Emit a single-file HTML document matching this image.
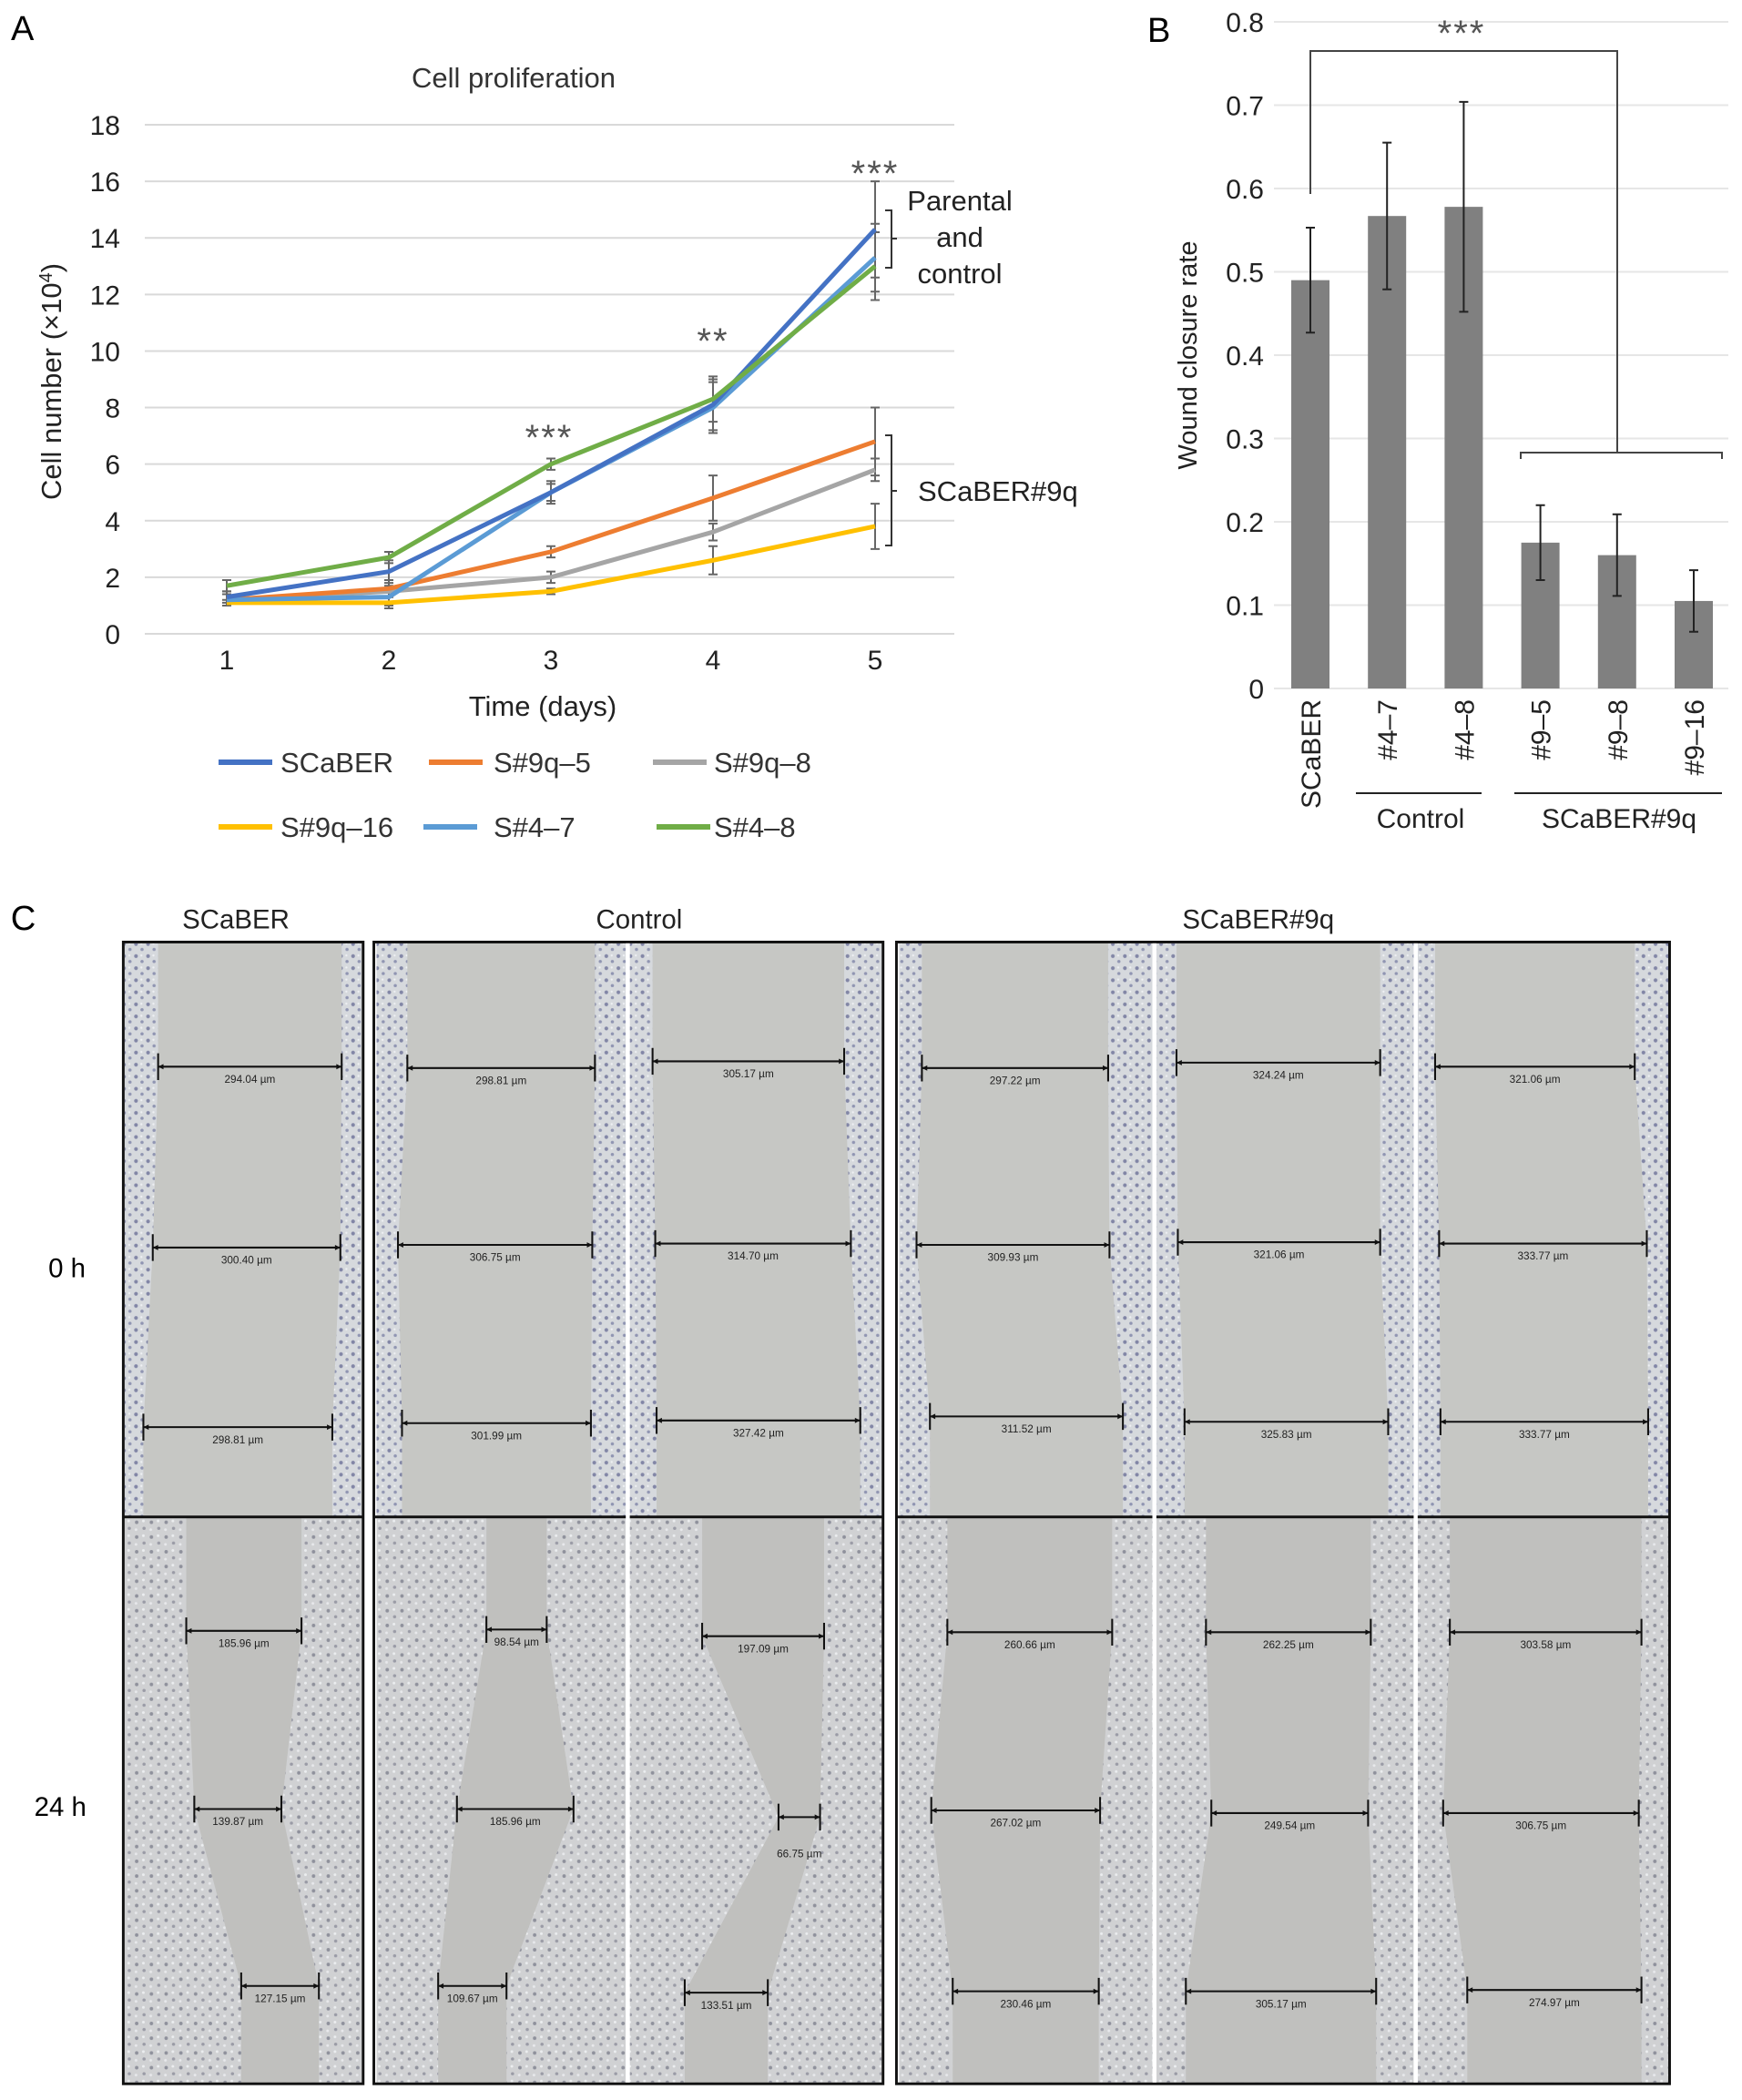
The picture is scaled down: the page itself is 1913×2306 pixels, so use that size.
<!DOCTYPE html>
<html><head><meta charset="utf-8"><style>
html,body{margin:0;padding:0;background:#fff;}
svg{display:block;font-family:"Liberation Sans",Arial,sans-serif;}
</style></head><body>
<svg id="fig" width="1913" height="2306" viewBox="0 0 1913 2306" xmlns="http://www.w3.org/2000/svg">
<defs>
<pattern id="cells" width="9" height="9" patternUnits="userSpaceOnUse">
<rect width="9" height="9" fill="#d6d9dd"/>
<circle cx="2.5" cy="2.5" r="1.4" fill="#8286a6"/>
<circle cx="7" cy="6.5" r="1.2" fill="#9095b2"/>
<circle cx="6.5" cy="2" r="0.8" fill="#eef0f3"/>
</pattern>
<pattern id="cells2" width="11" height="11" patternUnits="userSpaceOnUse">
<rect width="11" height="11" fill="#d0d1d3"/>
<circle cx="3" cy="3" r="1.3" fill="#8f919c"/>
<circle cx="8.5" cy="7.5" r="1.2" fill="#9a9ba6"/>
<circle cx="8" cy="2" r="1" fill="#eceef0"/>
<circle cx="2.5" cy="8.5" r="1" fill="#e8e9ec"/>
</pattern>
</defs>
<g id="panelA"></g>
<g id="panelB"></g>
<g id="panelC" transform="scale(1.4715)"></g>
</svg>
<script>
// ---------- Panel A data ----------
const days = [1, 2, 3, 4, 5];
const yTicksA = [0, 2, 4, 6, 8, 10, 12, 14, 16, 18];
const seriesNames = ["SCaBER", "S#9q\u20135", "S#9q\u20138", "S#9q\u201316", "S#4\u20137", "S#4\u20138"];
const seriesColors = ["#4472C4", "#ED7D31", "#A5A5A5", "#FFC000", "#5B9BD5", "#70AD47"];
const scaber = [1.3, 2.2, 5.0, 8.1, 14.3];
const s9q5 = [1.2, 1.6, 2.9, 4.8, 6.8];
const s9q8 = [1.2, 1.5, 2.0, 3.6, 5.8];
const s9q16 = [1.1, 1.1, 1.5, 2.6, 3.8];
const s47 = [1.2, 1.3, 5.0, 8.0, 13.3];
const s48 = [1.7, 2.7, 6.0, 8.3, 13.0];
const errScaber = [0.2, 0.4, 0.3, 0.9, 1.7];
const err9q5 = [0.2, 0.3, 0.2, 0.8, 1.2];
const err9q8 = [0.2, 0.2, 0.2, 0.3, 0.4];
const err9q16 = [0.1, 0.2, 0.1, 0.5, 0.8];
const err47 = [0.2, 0.3, 0.4, 0.9, 1.2];
const err48 = [0.2, 0.2, 0.2, 0.8, 1.2];
// ---------- Panel B data ----------
const barCats = ["SCaBER", "#4\u20137", "#4\u20138", "#9\u20135", "#9\u20138", "#9\u201316"];
const barVals = [0.49, 0.567, 0.578, 0.175, 0.16, 0.105];
const barErr = [0.063, 0.088, 0.126, 0.045, 0.049, 0.037];
const yTicksB = [0, 0.1, 0.2, 0.3, 0.4, 0.5, 0.6, 0.7, 0.8];

const NS = "http://www.w3.org/2000/svg";
function mk(parent, tag, attrs, text) {
  const e = document.createElementNS(NS, tag);
  for (const k in attrs) e.setAttribute(k, attrs[k]);
  if (text !== undefined) e.textContent = text;
  parent.appendChild(e);
  return e;
}

// ===== Panel A =====
(function () {
  const g = document.getElementById('panelA');
  const x = d => 249 + (d - 1) * 178;
  const y = v => 696 - v * (559 / 18);
  let t = mk(g, 'text', {x: 12, y: 44, 'font-size': 38}, 'A');
  
  
  t = mk(g, 'text', {x: 564, y: 96, 'font-size': 31, 'text-anchor': 'middle', fill: '#333'}, 'Cell proliferation');
  
  
  yTicksA.forEach(v => {
    const l = mk(g, 'line', {x1: 159, x2: 1048, y1: y(v), y2: y(v), stroke: '#d9d9d9', 'stroke-width': 2});
    
    
    const tl = mk(g, 'text', {x: 132, y: y(v) + 11, 'font-size': 30, 'text-anchor': 'end', fill: '#222'}, String(v));
    
    
  });
  days.forEach(d => {
    const tl = mk(g, 'text', {x: x(d), y: 735, 'font-size': 30, 'text-anchor': 'middle', fill: '#222'}, String(d));
    
    
  });
  t = mk(g, 'text', {x: 596, y: 786, 'font-size': 31, 'text-anchor': 'middle', fill: '#222'}, 'Time (days)');
  
  
  t = mk(g, 'text', {x: 0, y: 0, 'font-size': 31, 'text-anchor': 'middle', fill: '#222', transform: 'translate(67,419) rotate(-90)'});
  
  
  t.innerHTML = 'Cell number (\u00d710<tspan dy="-10" font-size="20">4</tspan><tspan dy="10">)</tspan>';

  const all = [scaber, s9q5, s9q8, s9q16, s47, s48];
  const errs = [errScaber, err9q5, err9q8, err9q16, err47, err48];
  all.forEach((s, i) => {
    s.forEach((v, j) => {
      const e = errs[i][j];
      const eb = mk(g, 'path', {d: `M${x(days[j])},${y(v - e)}V${y(v + e)}M${x(days[j]) - 5},${y(v - e)}h10M${x(days[j]) - 5},${y(v + e)}h10`, stroke: '#666', 'stroke-width': 2, fill: 'none'});
      
      
    });
  });
  const order = [3, 2, 1, 4, 0, 5];
  order.forEach(i => {
    const s = all[i];
    const p = mk(g, 'polyline', {points: s.map((v, j) => x(days[j]) + ',' + y(v)).join(' '), fill: 'none', stroke: seriesColors[i], 'stroke-width': 5, 'stroke-linejoin': 'round'});
    
    
  });
  [[603, 474, '***'], [783, 368, '**'], [961, 184, '***']].forEach(a => {
    const s = mk(g, 'text', {x: a[0], y: a[1] + 20, 'font-size': 40, 'text-anchor': 'middle', fill: '#555', 'letter-spacing': 2}, a[2]);
    
    
  });
  let b = mk(g, 'path', {d: 'M972,231h7v63h-7M979,262h6', stroke: '#333', 'stroke-width': 2, fill: 'none'});
  
  
  ['Parental', 'and', 'control'].forEach((w, i) => {
    const tt = mk(g, 'text', {x: 1054, y: 231 + i * 40, 'font-size': 31, 'text-anchor': 'middle', fill: '#222'}, w);
    
    
  });
  b = mk(g, 'path', {d: 'M972,478h7v121h-7M979,539h6', stroke: '#333', 'stroke-width': 2, fill: 'none'});
  
  
  t = mk(g, 'text', {x: 1008, y: 550, 'font-size': 31, fill: '#222'}, 'SCaBER#9q');
  
  
  const leg = [[240, 837], [471, 837], [717, 837], [240, 908], [465, 908], [721, 908]];
  leg.forEach((p, i) => {
    const lg = mk(g, 'g', {});
    
    
    mk(lg, 'line', {x1: p[0], x2: p[0] + 59, y1: p[1], y2: p[1], stroke: seriesColors[i], 'stroke-width': 6});
    mk(lg, 'text', {x: [308, 542, 784][i % 3], y: p[1] + 11, 'font-size': 31, fill: '#333'}, seriesNames[i]);
  });
})();

// ===== Panel B =====
(function () {
  const g = document.getElementById('panelB');
  const y = v => 756 - v * (732 / 0.8);
  const cx = i => 1439 + i * 84.2;
  let t = mk(g, 'text', {x: 1260, y: 46, 'font-size': 38}, 'B');
  
  
  yTicksB.forEach(v => {
    const l = mk(g, 'line', {x1: 1399, x2: 1898, y1: y(v), y2: y(v), stroke: '#e6e6e6', 'stroke-width': 2});
    
    
    const tl = mk(g, 'text', {x: 1388, y: y(v) + 11, 'font-size': 30, 'text-anchor': 'end', fill: '#222'}, v === 0 ? '0' : v.toFixed(1));
    
    
  });
  t = mk(g, 'text', {x: 0, y: 0, 'font-size': 29, 'text-anchor': 'middle', fill: '#222', transform: 'translate(1314,390) rotate(-90)'}, 'Wound closure rate');
  
  
  barVals.forEach((v, i) => {
    const r = mk(g, 'rect', {x: cx(i) - 21, y: y(v), width: 42, height: y(0) - y(v), fill: '#808080'});
    
    
    const e = barErr[i];
    const eb = mk(g, 'path', {d: `M${cx(i)},${y(v - e)}V${y(v + e)}M${cx(i) - 5},${y(v - e)}h10M${cx(i) - 5},${y(v + e)}h10`, stroke: '#222', 'stroke-width': 2, fill: 'none'});
    
    
    const tl = mk(g, 'text', {x: 0, y: 0, 'font-size': 30, 'text-anchor': 'end', fill: '#222', transform: `translate(${cx(i) + 11},768) rotate(-90)`}, barCats[i]);
    
    
  });
  let b = mk(g, 'path', {d: 'M1439,213V56H1776V497M1670,504v-7H1891v7', stroke: '#444', 'stroke-width': 2, fill: 'none'});
  
  
  t = mk(g, 'text', {x: 1605, y: 50, 'font-size': 40, 'text-anchor': 'middle', fill: '#555', 'letter-spacing': 2}, '***');
  
  
  b = mk(g, 'path', {d: 'M1489,871H1627M1663,871H1891', stroke: '#222', 'stroke-width': 2});
  
  
  t = mk(g, 'text', {x: 1560, y: 909, 'font-size': 30, 'text-anchor': 'middle', fill: '#222'}, 'Control');
  
  
  t = mk(g, 'text', {x: 1778, y: 909, 'font-size': 30, 'text-anchor': 'middle', fill: '#222'}, 'SCaBER#9q');
  
  
})();

// ===== Panel C (coords in 1300-wide space, scaled) =====
const imgCols = [[93, 270], [281, 467], [470, 658], [671, 860], [863, 1055], [1058, 1245]];
const meas0 = [
  [[796,118,255,'294.04 \u00b5m'],[931,114,254,'300.40 \u00b5m'],[1065,107,248,'298.81 \u00b5m']],
  [[797,304,444,'298.81 \u00b5m'],[929,297,442,'306.75 \u00b5m'],[1062,300,441,'301.99 \u00b5m']],
  [[792,487,630,'305.17 \u00b5m'],[928,489,635,'314.70 \u00b5m'],[1060,490,642,'327.42 \u00b5m']],
  [[797,688,827,'297.22 \u00b5m'],[929,684,828,'309.93 \u00b5m'],[1057,694,838,'311.52 \u00b5m']],
  [[793,878,1030,'324.24 \u00b5m'],[927,879,1030,'321.06 \u00b5m'],[1061,884,1036,'325.83 \u00b5m']],
  [[796,1071,1220,'321.06 \u00b5m'],[928,1074,1229,'333.77 \u00b5m'],[1061,1075,1230,'333.77 \u00b5m']]];
const meas24 = [
  [[1217,139,225,'185.96 \u00b5m'],[1350,145,210,'139.87 \u00b5m'],[1482,180,238,'127.15 \u00b5m']],
  [[1216,363,408,'98.54 \u00b5m'],[1350,341,428,'185.96 \u00b5m'],[1482,327,378,'109.67 \u00b5m']],
  [[1221,524,615,'197.09 \u00b5m'],[1356,581,612,'66.75 \u00b5m'],[1487,511,573,'133.51 \u00b5m']],
  [[1218,707,830,'260.66 \u00b5m'],[1351,695,821,'267.02 \u00b5m'],[1486,711,820,'230.46 \u00b5m']],
  [[1218,900,1023,'262.25 \u00b5m'],[1353,904,1021,'249.54 \u00b5m'],[1486,885,1027,'305.17 \u00b5m']],
  [[1218,1082,1225,'303.58 \u00b5m'],[1353,1077,1223,'306.75 \u00b5m'],[1485,1095,1225,'274.97 \u00b5m']]];
(function () {
  const g = document.getElementById('panelC');
  let t = mk(g, 'text', {x: 8, y: 694, 'font-size': 26}, 'C');
  
  
  [[176, 'SCaBER'], [477, 'Control'], [939, 'SCaBER#9q']].forEach(h => {
    const ht = mk(g, 'text', {x: h[0], y: 693, 'font-size': 20, 'text-anchor': 'middle', fill: '#222'}, h[1]);
    
    
  });
  t = mk(g, 'text', {x: 50, y: 953, 'font-size': 20, 'text-anchor': 'middle'}, '0 h');
  
  
  t = mk(g, 'text', {x: 45, y: 1355, 'font-size': 20, 'text-anchor': 'middle'}, '24 h');
  
  
  function drawImg(c, y0, y1, meas, late) {
    const ig = mk(g, 'g', {});
    
    
    const x0 = c[0], x1 = c[1];
    mk(ig, 'rect', {x: x0, y: y0, width: x1 - x0, height: y1 - y0, fill: late ? 'url(#cells2)' : 'url(#cells)'});
    const pts = [];
    meas.forEach(m => pts.push([m[1], m[0]]));
    const L = [[meas[0][1], y0]].concat(pts).concat([[meas[2][1], y1]]);
    const R = [[meas[2][2], y1]].concat(meas.slice().reverse().map(m => [m[2], m[0]])).concat([[meas[0][2], y0]]);
    mk(ig, 'polygon', {points: L.concat(R).map(p => p.join(',')).join(' '), fill: late ? '#c0c0be' : '#c6c7c4'});
    meas.forEach(m => {
      const mg = mk(ig, 'g', {});
      
      
      mk(mg, 'path', {d: `M${m[1]},${m[0] - 10}v20M${m[2]},${m[0] - 10}v20M${m[1]},${m[0]}H${m[2]}`, stroke: '#111', 'stroke-width': 1.4, fill: 'none'});
      mk(mg, 'path', {d: `M${m[1]},${m[0]}l4,-2v4zM${m[2]},${m[0]}l-4,-2v4z`, fill: '#111'});
      const off = (m[2] - m[1] < 40) ? 30 : 12;
      mk(mg, 'text', {x: (m[1] + m[2]) / 2, y: m[0] + off, 'font-size': 8, 'text-anchor': 'middle', fill: '#222'}, m[3]);
    });
  }
  imgCols.forEach((c, i) => {
    drawImg(c, 704, 1132, meas0[i], false);
    drawImg(c, 1133, 1554, meas24[i], true);
  });
  [[92, 271], [279, 659], [669, 1246]].forEach(b => {
    const r = mk(g, 'rect', {x: b[0], y: 703, width: b[1] - b[0], height: 852, fill: 'none', stroke: '#111', 'stroke-width': 2});
    
    
    const d = mk(g, 'line', {x1: b[0], x2: b[1], y1: 1132, y2: 1132, stroke: '#111', 'stroke-width': 2});
    
    
  });
  [468.5, 861.5, 1056.5].forEach(xv => {
    const w = mk(g, 'line', {x1: xv, x2: xv, y1: 704, y2: 1554, stroke: '#fff', 'stroke-width': 3});
    
    
  });
})();
</script>
</body></html>
